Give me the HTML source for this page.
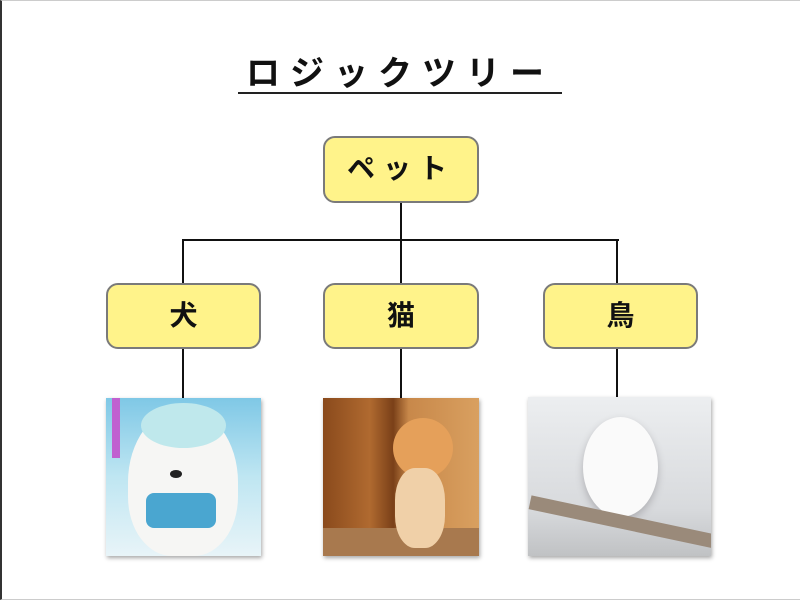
<!DOCTYPE html>
<html><head><meta charset="utf-8"><style>
body{margin:0;width:800px;height:600px;overflow:hidden;background:#fff;position:relative;font-family:"Liberation Sans","Noto Sans CJK JP",sans-serif;}
.frame{position:absolute;left:0;top:0;width:798px;height:598px;border-top:1px solid #ccc;border-left:2px solid #333;border-bottom:1px solid #ccc;}
.title{position:absolute;left:238px;width:324px;top:46px;text-align:center;font-size:34px;letter-spacing:10px;color:#111;font-weight:bold;}
.ul{position:absolute;left:238px;width:324px;top:92px;height:2px;background:#222;}
.box{position:absolute;background:#fff38a;border:2px solid #7a7a7a;border-radius:12px;box-sizing:border-box;text-align:center;font-size:28px;color:#111;font-weight:bold;}
.l{position:absolute;background:#111;}
.img{position:absolute;overflow:hidden;box-shadow:1px 2px 4px rgba(0,0,0,.35);}
</style></head><body>
<div class="frame"></div>
<div class="title">ロジックツリー</div>
<div class="ul"></div>
<div class="box" style="left:323px;top:136px;width:156px;height:67px;line-height:62px;letter-spacing:8px;">ペット</div>
<div class="l" style="left:400px;top:203px;width:2px;height:80px"></div>
<div class="l" style="left:182px;top:239px;width:437px;height:2px"></div>
<div class="l" style="left:182px;top:239px;width:2px;height:44px"></div>
<div class="l" style="left:616px;top:239px;width:2px;height:44px"></div>
<div class="box" style="left:106px;top:283px;width:155px;height:66px;line-height:62px;">犬</div>
<div class="box" style="left:323px;top:283px;width:156px;height:66px;line-height:62px;">猫</div>
<div class="box" style="left:543px;top:283px;width:155px;height:66px;line-height:62px;">鳥</div>
<div class="l" style="left:182px;top:349px;width:2px;height:49px"></div>
<div class="l" style="left:400px;top:349px;width:2px;height:49px"></div>
<div class="l" style="left:616px;top:349px;width:2px;height:49px"></div>
<div class="img" style="left:106px;top:398px;width:155px;height:158px;background:linear-gradient(#7fc8e6,#bfe6f2 50%,#e8f4f8);">
<div style="position:absolute;left:6px;top:0;width:8px;height:60px;background:#c060d0"></div>
<div style="position:absolute;left:22px;top:10px;width:110px;height:148px;border-radius:50% 50% 40% 40%;background:#f6f6f4"></div>
<div style="position:absolute;left:35px;top:5px;width:85px;height:45px;border-radius:50%;background:#bfe8ec"></div>
<div style="position:absolute;left:40px;top:95px;width:70px;height:35px;background:#4aa6d0;border-radius:8px"></div>
<div style="position:absolute;left:64px;top:72px;width:12px;height:8px;border-radius:50%;background:#222"></div>
</div>
<div class="img" style="left:323px;top:398px;width:156px;height:158px;background:linear-gradient(90deg,#8a4a1c,#b06a30 30%,#7a4018 45%,#c8884a 55%,#d9a060);">
<div style="position:absolute;left:0;top:130px;width:156px;height:28px;background:#a8794e"></div>
<div style="position:absolute;left:70px;top:20px;width:60px;height:60px;border-radius:50%;background:#e5a05a"></div>
<div style="position:absolute;left:72px;top:70px;width:50px;height:80px;border-radius:40%;background:#f0d0a8"></div>
</div>
<div class="img" style="left:528px;top:397px;width:183px;height:159px;background:linear-gradient(#eceef0,#d8dadd 70%,#c0c2c4);">
<div style="position:absolute;left:55px;top:20px;width:75px;height:100px;border-radius:50%;background:#fafafa;box-shadow:0 4px 8px #b0b0b4"></div>
<div style="position:absolute;left:0;top:118px;width:190px;height:14px;background:#9a8a7a;transform:rotate(12deg)"></div>
</div>
</body></html>
